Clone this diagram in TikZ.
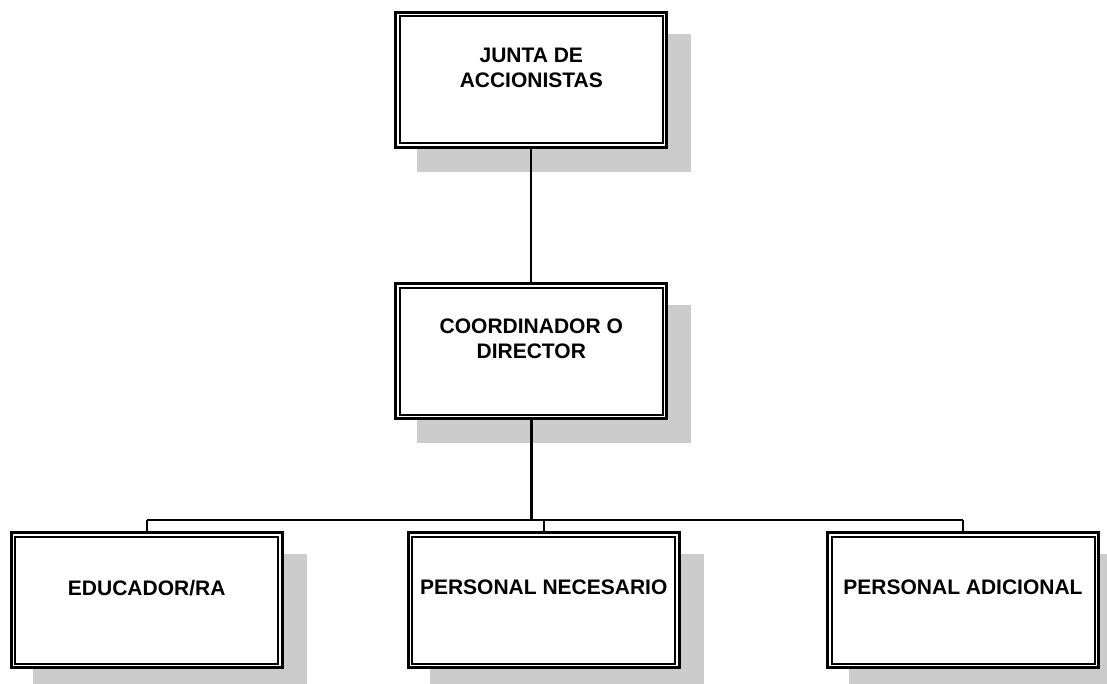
\documentclass[tikz,border=0pt]{standalone}
\usepackage{fontspec}
\setmainfont{Liberation Sans}
\pgfdeclarelayer{shadowl}
\pgfdeclarelayer{conn}
\pgfsetlayers{shadowl,conn,main}
\definecolor{shadowgray}{HTML}{CCCCCC}
\tikzset{
  orgbox/.style={draw=black, fill=white, line width=3pt,
    minimum width=271pt, minimum height=135pt, inner sep=0pt, outer sep=0pt,
    align=center, font=\fontsize{21}{25}\selectfont\bfseries},
  innerline/.style={draw=black, line width=2pt},
  conline/.style={draw=black, line width=2pt},
  mainline/.style={draw=black, line width=3pt},
}
\newcommand{\orgshadow}[1]{%
  \fill[shadowgray] ([shift={(21.5pt,-21.5pt)}]#1.north west) rectangle ([shift={(24.5pt,-24.5pt)}]#1.south east);}
\newcommand{\orginner}[1]{%
  \draw[innerline] ([shift={(4pt,-4pt)}]#1.north west) rectangle ([shift={(-4pt,4pt)}]#1.south east);}
\begin{document}
\begin{tikzpicture}[x=1pt,y=-1pt]
\useasboundingbox (0,0) rectangle (1107,684);
\clip (0,0) rectangle (1107,684);
\node[orgbox] (junta) at (531.3,79.9) {JUNTA DE\\ACCIONISTAS\\~};
\node[orgbox] (coord) at (531.3,351.2) {COORDINADOR O\\DIRECTOR\\~};
\node[orgbox] (educ) at (146.7,600) {EDUCADOR/RA\\~};
\node[orgbox] (nec) at (543.7,600) {PERSONAL NECESARIO\\~};
\node[orgbox] (adic) at (963,600) {PERSONAL ADICIONAL\\~};
\orginner{junta}
\orginner{coord}
\orginner{educ}
\orginner{nec}
\orginner{adic}
\coordinate (bus) at (531.5,520);
\begin{pgfonlayer}{shadowl}
  \orgshadow{junta}
  \orgshadow{coord}
  \orgshadow{educ}
  \orgshadow{nec}
  \orgshadow{adic}
\end{pgfonlayer}
\begin{pgfonlayer}{conn}
  \draw[conline] (junta.south) -- (coord.north);
  \draw[mainline] (coord.south) -- (coord.south |- bus);
  \draw[conline] (educ.north |- bus) -- (adic.north |- bus);
  \draw[conline] (educ.north |- bus) -- (educ.north);
  \draw[conline] (nec.north |- bus) -- (nec.north);
  \draw[conline] (adic.north |- bus) -- (adic.north);
\end{pgfonlayer}
\end{tikzpicture}
\end{document}
